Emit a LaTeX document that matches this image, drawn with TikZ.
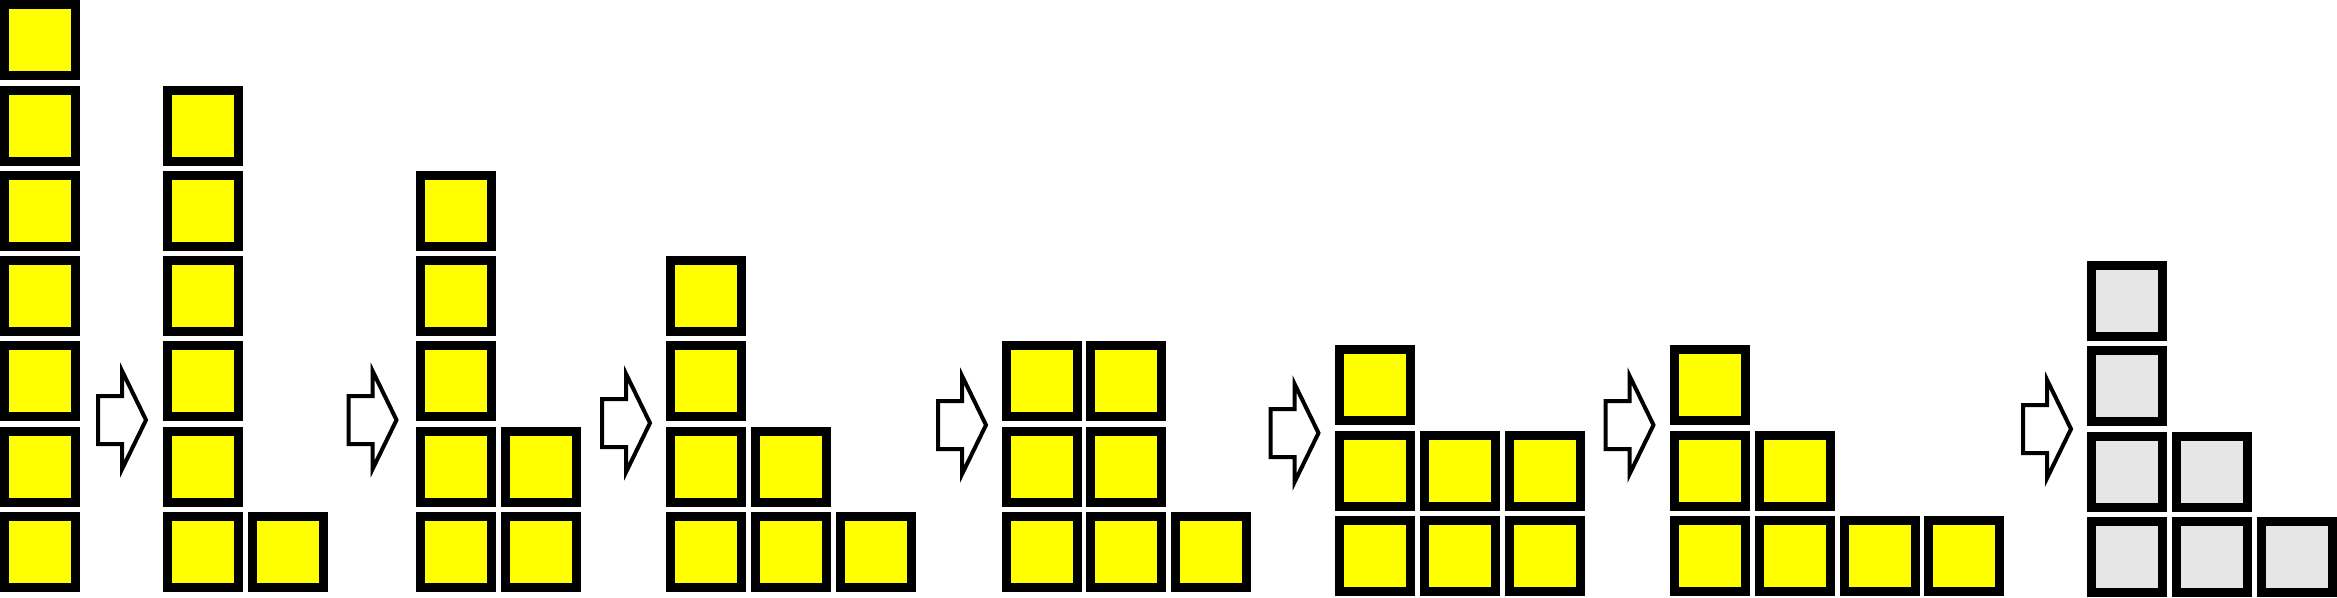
\documentclass[tikz,border=0pt]{standalone}
\usepackage{tikz}
\usetikzlibrary{shapes.arrows, positioning}
\definecolor{cellyellow}{RGB}{255,255,0}
\definecolor{cellgrey}{RGB}{230,230,230}
\tikzstyle{cell} = [rectangle, minimum size=0.71cm, inner sep=0pt, line width=0.09cm, draw=black, fill=cellyellow]
\tikzstyle{repeatcell} = [cell, fill=cellgrey]
\tikzstyle{movearrow} = [single arrow, draw=black, fill=white, line width=0.04cm, inner xsep=0pt, inner ysep=0.22cm, single arrow head extend=0.25cm, single arrow tip angle=128, minimum height=0.48cm, anchor=tail]

\begin{document}
\begin{tikzpicture}[node distance=0.053cm and 0.048cm]
\useasboundingbox (0,0) rectangle (23.37,5.97);

\node (s1a1) [cell, anchor=south west] at (0,0.05) {};
\node (s1a2) [cell, above=of s1a1] {};
\node (s1a3) [cell, above=of s1a2] {};
\node (s1a4) [cell, above=of s1a3] {};
\node (s1a5) [cell, above=of s1a4] {};
\node (s1a6) [cell, above=of s1a5] {};
\node (s1a7) [cell, above=of s1a6] {};

\node (arr1) [movearrow] at (0.96,1.77) {};

\node (s2a1) [cell, anchor=south west] at (1.63,0.05) {};
\node (s2a2) [cell, above=of s2a1] {};
\node (s2a3) [cell, above=of s2a2] {};
\node (s2a4) [cell, above=of s2a3] {};
\node (s2a5) [cell, above=of s2a4] {};
\node (s2a6) [cell, above=of s2a5] {};
\node (s2b1) [cell, right=of s2a1] {};

\node (arr2) [movearrow] at (3.465,1.77) {};

\node (s3a1) [cell, anchor=south west] at (4.157,0.05) {};
\node (s3a2) [cell, above=of s3a1] {};
\node (s3a3) [cell, above=of s3a2] {};
\node (s3a4) [cell, above=of s3a3] {};
\node (s3a5) [cell, above=of s3a4] {};
\node (s3b1) [cell, right=of s3a1] {};
\node (s3b2) [cell, above=of s3b1] {};

\node (arr3) [movearrow] at (6.00,1.74) {};

\node (s4a1) [cell, anchor=south west] at (6.66,0.05) {};
\node (s4a2) [cell, above=of s4a1] {};
\node (s4a3) [cell, above=of s4a2] {};
\node (s4a4) [cell, above=of s4a3] {};
\node (s4b1) [cell, right=of s4a1] {};
\node (s4b2) [cell, above=of s4b1] {};
\node (s4c1) [cell, right=of s4b1] {};

\node (arr4) [movearrow] at (9.36,1.72) {};

\node (s5a1) [cell, anchor=south west] at (10.015,0.05) {};
\node (s5a2) [cell, above=of s5a1] {};
\node (s5a3) [cell, above=of s5a2] {};
\node (s5b1) [cell, right=of s5a1] {};
\node (s5b2) [cell, above=of s5b1] {};
\node (s5b3) [cell, above=of s5b2] {};
\node (s5c1) [cell, right=of s5b1] {};

\node (arr5) [movearrow] at (12.685,1.64) {};

\node (s6a1) [cell, anchor=south west] at (13.35,0.01) {};
\node (s6a2) [cell, above=of s6a1] {};
\node (s6a3) [cell, above=of s6a2] {};
\node (s6b1) [cell, right=of s6a1] {};
\node (s6b2) [cell, above=of s6b1] {};
\node (s6c1) [cell, right=of s6b1] {};
\node (s6c2) [cell, above=of s6c1] {};

\node (arr6) [movearrow] at (16.035,1.72) {};

\node (s7a1) [cell, anchor=south west] at (16.70,0.01) {};
\node (s7a2) [cell, above=of s7a1] {};
\node (s7a3) [cell, above=of s7a2] {};
\node (s7b1) [cell, right=of s7a1] {};
\node (s7b2) [cell, above=of s7b1] {};
\node (s7c1) [cell, right=of s7b1] {};
\node (s7d1) [cell, right=of s7c1] {};

\node (arr7) [movearrow] at (20.21,1.68) {};

\node (s8a1) [repeatcell, anchor=south west] at (20.87,0) {};
\node (s8a2) [repeatcell, above=of s8a1] {};
\node (s8a3) [repeatcell, above=of s8a2] {};
\node (s8a4) [repeatcell, above=of s8a3] {};
\node (s8b1) [repeatcell, right=of s8a1] {};
\node (s8b2) [repeatcell, above=of s8b1] {};
\node (s8c1) [repeatcell, right=of s8b1] {};

\end{tikzpicture}
\end{document}
